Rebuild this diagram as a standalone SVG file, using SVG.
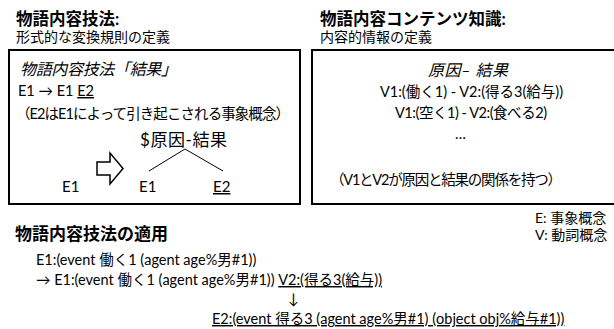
<svg xmlns="http://www.w3.org/2000/svg" width="614" height="329" viewBox="0 0 614 329">
<style>
text{font-family:Lato,"Noto Sans CJK JP",sans-serif;fill:#000}
.h{font-size:16.5px;font-weight:700}
.s{font-size:14px}
.t{font-size:14.5px}
.b{font-size:15px}
.it{font-size:16px;font-style:italic}
.box{fill:#fff;stroke:#000;stroke-width:2}
.ln{stroke:#000;stroke-width:1;fill:none}
.u{text-decoration:underline}
</style>
<rect width="614" height="329" fill="#fff"/>
<g id="left-panel">
<text class="h" x="16" y="25">物語内容技法:</text>
<text class="s" x="16" y="42">形式的な変換規則の定義</text>
<rect class="box" x="9" y="50" width="291" height="154"/>
<text class="it" x="20" y="75" textLength="157">物語内容技法「結果」</text>
<text class="t" x="18" y="96">E1 → E1 <tspan class="u">E2</tspan></text>
<text class="t" x="16" y="119" textLength="274">（E2はE1によって引き起こされる事象概念）</text>
<text x="140" y="146" style="font-size:17px" textLength="87">$原因-結果</text>
<text class="b" x="62" y="192">E1</text>
<text class="b" x="139" y="192">E1</text>
<text class="b u" x="213" y="192">E2</text>
</g>
<g id="right-panel">
<text class="h" x="320" y="25">物語内容コンテンツ知識:</text>
<text class="s" x="320" y="42">内容的情報の定義</text>
<rect class="box" x="312" y="50" width="306" height="154"/>
<text class="it" x="428" y="76" textLength="80">原因– 結果</text>
<text class="t" x="380" y="97" textLength="183">V1:(働く1) - V2:(得る3(給与))</text>
<text class="t" x="395" y="118" textLength="152">V1:(空く1) - V2:(食べる2)</text>
<text class="t" x="455" y="139">…</text>
<text class="t" x="330" y="185" textLength="232">（V1とV2が原因と結果の関係を持つ）</text>
</g>
<g id="connectors">
<path class="ln" d="M149,171 L185,149 L223,171"/>
<polygon points="97,162 110,162 110,153 123,168.5 110,184 110,175 97,175" fill="#fff" stroke="#000" stroke-width="1.5" stroke-linejoin="miter"/>
</g>
<g id="legend">
<text class="s" x="535" y="223">E: 事象概念</text>
<text class="s" x="535" y="240">V: 動詞概念</text>
</g>
<g id="application">
<text class="h" x="15" y="240" style="font-size:17px">物語内容技法の適用</text>
<text class="t" x="36" y="265">E1:(event 働く1 (agent age%男#1))</text>
<text class="t" x="36" y="285">→ E1:(event 働く1 (agent age%男#1)) <tspan class="u">V2:(得る3(給与))</tspan></text>
<text class="t" x="288" y="304">↓</text>
<text class="t u" x="212" y="324">E2:(event 得る3 (agent age%男#1) (object obj%給与#1))</text>
</g>
</svg>
